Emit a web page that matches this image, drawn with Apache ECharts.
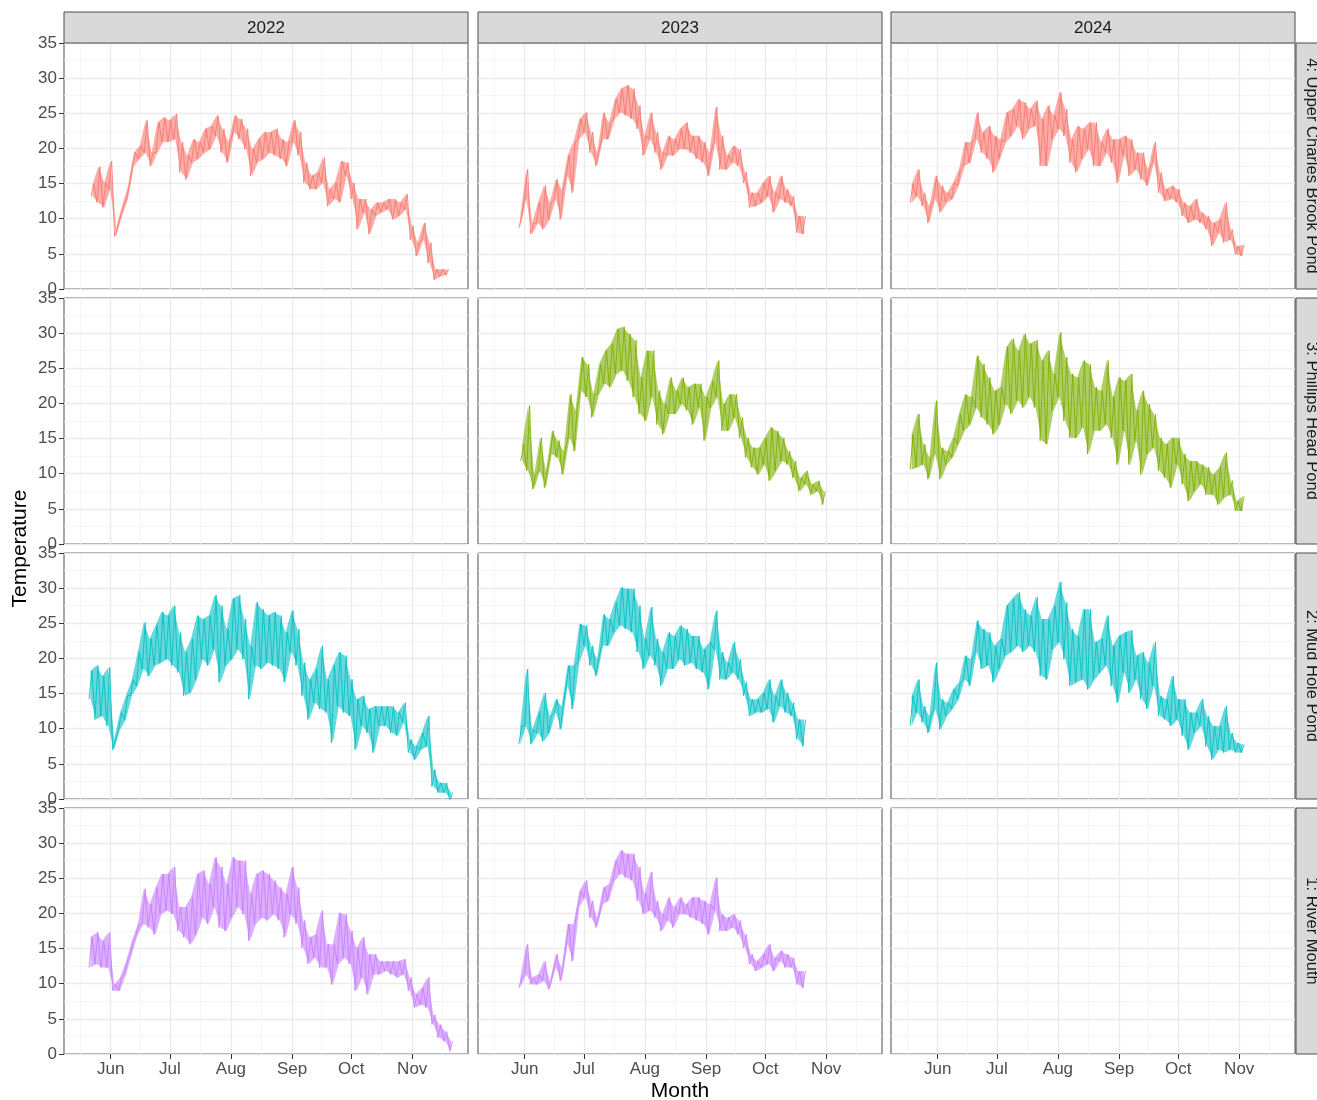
<!DOCTYPE html>
<html><head><meta charset="utf-8">
<script src="https://cdn.jsdelivr.net/npm/echarts@6/dist/echarts.min.js"></script>
<style>html,body{margin:0;padding:0;background:#fff}#c{width:1317px;height:1100px}</style>
</head><body><div id="c"></div>
<script>
// ---------- categories / ticks ----------
const years = ['2022', '2023', '2024'];
const sites = ['4: Upper Charles Brook Pond', '3: Phillips Head Pond', '2: Mud Hole Pond', '1: River Mouth'];
const siteColors = ['#F8766D', '#7CAE00', '#00BFC4', '#C77CFF'];
const monthLabels = ['Jun', 'Jul', 'Aug', 'Sep', 'Oct', 'Nov'];
const monthStartDays = [0, 30, 61, 92, 122, 153];          // days after 1 June
const midMonthDays = [-15.5, 15, 45.5, 76.5, 107, 137.5, 168];
const yTickValues = [0, 5, 10, 15, 20, 25, 30, 35];
const STEP_DAYS = 3; // one low/high reading every 3 days

// ---------- series values (daily low / high, every 3 days) ----------
// 4: Upper Charles Brook Pond
const uc22Start = -10;
const uc22Lo = [13.2,12.3,11.6,14.2,7.5,10.4,12.8,17.5,18.5,19.4,17.5,19.4,20.9,20.9,21.3,16.6,15.6,18.0,18.5,19.4,19.9,21.8,19.4,18.0,22.3,21.3,19.9,16.1,18.0,18.5,19.4,19.0,18.5,17.5,20.9,19.0,15.1,14.2,14.2,15.1,11.8,12.8,12.3,16.1,12.8,8.5,10.9,7.8,10.4,10.9,11.3,9.9,10.4,11.3,7.0,4.7,7.0,3.7,1.3,1.8,2.0];
const uc22Hi = [14.9,17.4,15.1,18.2,8.7,11.8,14.7,19.4,20.4,24.0,19.4,23.7,24.4,24.0,24.9,20.9,19.0,21.3,20.9,22.8,23.2,24.7,22.8,20.9,24.7,24.2,22.8,19.9,21.3,22.3,22.3,22.8,21.3,20.9,24.0,22.3,18.0,16.1,16.6,18.7,14.2,15.1,18.2,18.0,15.1,12.8,12.8,11.3,12.3,12.3,12.8,12.8,12.3,13.5,9.0,6.6,9.4,6.6,2.8,2.8,2.8];
const uc23Start = -3;
const uc23Lo = [8.7,12.8,7.8,9.4,8.5,9.9,12.8,9.9,16.1,13.7,21.3,22.3,19.4,17.5,21.3,21.3,24.2,25.1,24.7,24.2,22.8,19.0,21.3,19.4,17.0,19.0,19.0,19.9,19.9,19.4,18.5,18.0,16.1,20.9,17.0,17.0,18.0,17.5,15.1,11.6,11.8,12.3,13.2,10.9,12.8,12.3,11.8,8.0,7.8];
const uc23Hi = [10.4,17.0,9.4,12.3,14.7,12.3,15.6,14.2,19.0,20.9,24.2,25.1,22.3,19.4,25.1,23.7,27.0,28.5,29.0,28.5,26.1,21.8,25.1,22.3,19.4,21.8,21.3,22.8,23.7,21.8,21.8,20.9,19.4,25.9,21.8,19.0,20.4,19.9,16.6,13.7,13.7,15.1,16.1,13.7,16.1,14.2,13.2,10.4,10.4];
const uc24Start = -14;
const uc24Lo = [12.3,13.2,11.8,9.4,12.8,10.9,12.3,12.8,14.7,17.5,18.0,21.3,19.4,18.5,16.6,18.5,20.9,21.8,23.2,21.3,22.8,23.2,17.5,17.5,21.3,22.8,21.8,18.0,16.6,18.5,19.9,17.5,17.5,19.4,18.0,15.1,19.0,16.1,17.0,15.6,14.7,18.0,13.7,12.5,12.8,12.3,10.4,9.4,9.9,9.4,8.5,6.1,8.0,6.6,7.0,4.9,4.7];
const uc24Hi = [14.9,17.0,13.7,11.8,16.1,14.7,13.7,15.1,17.0,20.9,20.9,25.1,22.3,23.2,21.8,21.3,25.1,25.6,27.0,26.6,25.6,26.8,24.2,26.1,24.7,28.0,25.6,21.3,23.2,22.8,23.7,23.7,20.9,22.8,21.3,21.3,21.8,21.3,19.4,19.4,17.0,20.9,16.6,14.2,14.7,14.2,12.3,11.8,12.8,10.9,10.4,9.4,9.9,12.3,8.5,6.1,6.3];
// 3: Phillips Head Pond
const ph23Start = -2;
const ph23Lo = [11.8,10.4,7.8,10.4,8.0,12.8,12.3,9.9,15.1,13.2,21.8,20.9,18.0,21.3,22.8,22.3,24.2,24.7,23.2,20.9,18.5,17.5,20.9,17.0,15.6,18.5,18.5,19.9,19.0,17.0,19.4,14.7,19.4,20.9,16.1,16.1,18.0,15.1,12.3,10.9,9.9,11.3,9.0,10.4,11.8,11.3,9.4,7.5,8.5,7.0,7.5,5.6];
const ph23Hi = [14.2,19.7,9.9,15.1,10.4,16.1,14.7,13.2,21.3,19.0,26.6,25.6,21.3,25.6,27.5,28.5,30.6,30.9,29.9,29.0,23.7,27.5,27.5,21.8,19.9,23.7,21.8,23.7,22.3,22.8,22.8,20.9,23.2,26.1,19.9,21.3,21.3,18.0,15.1,13.7,13.7,15.1,16.6,16.1,15.1,13.2,11.8,9.4,10.4,8.5,9.0,7.5];
const ph24Start = -14;
const ph24Lo = [10.6,10.9,11.3,9.2,12.8,9.2,11.3,12.3,14.2,16.1,17.0,19.4,18.0,17.0,15.6,17.0,19.9,18.5,20.4,19.4,20.9,19.4,14.7,14.2,19.0,20.9,17.5,15.1,15.1,16.6,12.8,16.1,16.1,17.0,15.1,11.3,16.1,11.3,14.7,9.9,12.8,13.7,10.4,9.4,8.0,11.3,8.5,6.1,7.5,8.5,7.0,7.0,5.6,6.6,7.0,4.7,4.7];
const ph24Hi = [15.6,18.5,14.2,12.3,20.4,13.7,13.2,15.1,18.5,21.3,20.9,26.8,25.6,23.7,21.8,22.3,28.0,29.2,27.5,29.9,28.5,29.0,26.1,27.5,24.2,30.1,26.6,24.2,23.7,26.1,25.6,22.3,21.8,26.1,20.9,23.7,23.2,24.2,19.0,21.8,19.9,18.5,15.1,14.2,15.1,15.1,12.8,11.8,11.8,11.3,10.9,9.9,10.9,13.0,9.0,6.1,6.8];
// 2: Mud Hole Pond
const mh22Start = -11;
const mh22Lo = [14.2,11.3,11.8,10.4,7.0,9.9,11.3,14.7,16.1,18.5,17.5,19.0,19.4,19.9,19.0,18.0,14.7,15.1,17.0,19.9,19.0,21.3,16.6,19.0,19.9,21.3,19.9,14.2,19.0,18.5,19.4,19.0,18.5,16.6,20.9,19.0,14.7,11.3,13.7,12.8,12.3,8.0,13.2,12.3,11.8,7.0,10.4,9.4,6.6,10.4,10.4,9.4,9.0,10.9,6.6,5.6,7.0,7.5,1.8,0.9,0.9,-0.3];
const mh22Hi = [18.2,19.0,17.5,18.7,8.5,12.3,14.7,17.0,20.9,25.1,22.8,24.7,26.6,26.1,27.5,23.7,20.9,22.8,26.1,25.6,26.1,29.0,27.5,24.2,28.5,29.0,25.6,21.8,28.0,27.0,26.1,26.6,26.1,23.7,26.8,24.2,19.4,17.0,18.5,21.8,17.0,19.0,20.9,20.4,17.0,14.2,14.7,12.8,13.2,13.2,13.2,13.2,12.3,13.7,8.5,7.5,9.4,11.8,4.2,2.3,2.3,0.9];
const mh23Start = -3;
const mh23Lo = [7.8,10.4,7.8,9.4,8.2,9.4,12.3,9.9,16.1,12.8,19.4,21.8,19.0,17.5,21.8,21.8,23.7,24.7,24.2,23.7,20.9,18.5,20.4,19.0,16.1,18.5,18.5,19.9,19.0,19.4,18.5,18.0,15.6,21.3,17.0,17.0,18.0,17.0,14.7,11.8,12.3,12.3,12.8,10.9,13.2,12.3,11.8,8.5,7.5];
const mh23Hi = [10.4,18.5,9.9,12.3,15.1,11.8,14.2,13.2,19.0,19.0,24.9,24.7,21.8,19.9,26.3,25.6,28.0,30.1,29.9,29.9,27.5,22.8,27.3,22.8,20.9,23.7,23.2,24.7,24.2,23.2,23.2,21.3,22.3,26.8,20.9,19.4,22.3,19.9,16.6,14.2,14.2,15.1,17.0,14.7,17.0,15.1,13.7,11.3,11.3];
const mh24Start = -14;
const mh24Lo = [10.4,12.3,10.9,9.4,12.8,9.9,11.8,12.8,14.2,17.0,16.1,20.9,18.5,19.0,16.6,18.5,20.4,20.9,21.8,20.9,21.8,20.9,17.5,17.0,21.3,22.3,19.9,16.1,16.6,17.0,15.6,17.0,18.0,19.0,16.1,13.7,18.0,15.1,17.0,14.2,12.8,16.1,11.8,11.3,10.4,11.3,9.0,7.0,9.4,10.4,7.5,5.6,7.0,6.6,7.0,6.6,6.6];
const mh24Hi = [14.7,17.0,13.2,11.8,19.4,14.2,13.7,15.6,16.6,20.4,19.9,25.4,24.2,23.7,21.8,22.8,27.5,28.5,29.4,27.0,26.1,28.7,25.6,25.6,27.5,30.9,28.0,24.2,23.2,27.0,27.0,22.3,22.8,26.1,21.8,23.2,23.7,24.0,20.4,20.9,19.4,22.3,14.7,14.2,17.5,14.2,14.2,12.3,12.3,14.2,11.8,10.4,10.4,13.2,9.4,8.0,7.8];
// 1: River Mouth
const rm22Start = -11;
const rm22Lo = [12.3,12.8,12.3,12.3,9.0,9.0,11.3,14.2,17.0,18.5,18.0,17.0,19.9,20.4,19.9,17.5,16.6,15.6,17.0,19.4,18.5,20.9,18.0,17.5,19.4,20.9,19.9,16.1,18.5,19.4,19.0,19.9,19.0,16.6,19.9,18.5,15.1,12.8,13.7,12.3,12.3,9.9,12.8,13.7,12.8,9.0,10.9,8.5,11.3,11.3,11.8,11.3,10.9,11.3,9.0,6.6,7.0,6.6,4.2,2.3,1.8,0.4];
const rm22Hi = [16.6,17.3,16.1,17.3,9.9,10.9,13.2,16.1,18.5,23.5,21.3,23.7,25.6,25.6,26.6,20.9,20.9,22.3,25.6,26.1,24.2,28.0,26.6,24.2,28.0,27.5,27.5,22.8,25.6,26.1,25.6,24.7,23.7,22.8,26.6,23.7,19.0,16.6,17.0,20.4,15.6,15.6,20.1,19.9,17.5,15.1,16.6,14.2,14.2,13.2,13.2,13.2,13.2,13.5,10.9,8.5,9.4,10.9,5.6,4.2,3.2,1.8];
const rm23Start = -3;
const rm23Lo = [9.4,11.3,9.9,9.9,10.4,9.2,12.3,10.4,15.6,13.2,20.9,22.3,19.4,18.0,21.3,21.8,24.7,25.6,25.1,24.7,21.8,19.9,20.4,19.4,17.5,19.0,18.0,19.9,19.9,19.4,19.0,18.5,17.0,20.4,17.5,17.5,18.0,17.0,15.1,12.8,11.8,12.3,12.8,11.8,13.2,12.3,12.3,9.9,9.4];
const rm23Hi = [10.9,15.6,10.9,11.3,13.2,10.4,14.2,12.3,18.5,18.5,23.2,24.7,21.8,19.4,23.7,24.2,27.5,29.0,28.5,28.5,26.6,22.8,25.9,21.8,19.9,22.3,20.9,22.3,21.3,22.3,22.3,21.8,21.3,25.1,19.9,19.4,19.9,19.0,17.0,14.2,13.2,14.2,15.6,13.7,14.7,14.2,13.7,11.8,11.8];

// which panel (row = site, col = year) holds which readings
const panels = [
  {row: 0, col: 0, start: uc22Start, lo: uc22Lo, hi: uc22Hi},
  {row: 0, col: 1, start: uc23Start, lo: uc23Lo, hi: uc23Hi},
  {row: 0, col: 2, start: uc24Start, lo: uc24Lo, hi: uc24Hi},
  {row: 1, col: 1, start: ph23Start, lo: ph23Lo, hi: ph23Hi},
  {row: 1, col: 2, start: ph24Start, lo: ph24Lo, hi: ph24Hi},
  {row: 2, col: 0, start: mh22Start, lo: mh22Lo, hi: mh22Hi},
  {row: 2, col: 1, start: mh23Start, lo: mh23Lo, hi: mh23Hi},
  {row: 2, col: 2, start: mh24Start, lo: mh24Lo, hi: mh24Hi},
  {row: 3, col: 0, start: rm22Start, lo: rm22Lo, hi: rm22Hi},
  {row: 3, col: 1, start: rm23Start, lo: rm23Lo, hi: rm23Hi}
];

// ---------- layout / style ----------
const FONT = '"Liberation Sans", Arial, Helvetica, sans-serif';
const colLeft = [64, 478, 891];
const panelW = 404;
const rowTop = [43, 298, 553, 808];
const panelH = 246;
const X_MIN = -23.7, X_MAX = 181.3;
const majorGrid = {color: '#EBEBEB', width: 1.4};
const minorGrid = {color: '#F3F3F3', width: 0.8};

const grid = [], xAxis = [], yAxis = [], series = [], graphic = [];
for (let r = 0; r < 4; r++) {
  for (let c = 0; c < 3; c++) {
    const g = grid.length;
    grid.push({left: colLeft[c], top: rowTop[r], width: panelW, height: panelH,
      show: true, backgroundColor: '#fff', borderColor: '#4D4D4D', borderWidth: 1});
    xAxis.push({
      type: 'value', gridIndex: g, min: X_MIN, max: X_MAX, z: 1, position: 'bottom',
      axisLine: {show: false, onZero: false},
      axisTick: {show: r === 3, customValues: monthStartDays, length: 5, lineStyle: {color: '#333', width: 1}},
      axisLabel: {show: r === 3, customValues: monthStartDays, margin: 7, fontSize: 17, color: '#4D4D4D', fontFamily: FONT,
        formatter: v => monthLabels[monthStartDays.indexOf(v)] || ''},
      splitLine: {show: true, lineStyle: majorGrid}
    });
    xAxis.push({
      type: 'value', gridIndex: g, min: X_MIN, max: X_MAX, z: 0, position: 'bottom',
      axisLine: {show: false, onZero: false},
      axisTick: {show: false, customValues: midMonthDays},
      axisLabel: {show: false},
      splitLine: {show: true, lineStyle: minorGrid}
    });
    yAxis.push({
      type: 'value', gridIndex: g, min: 0, max: 35, interval: 5, position: 'left',
      axisLine: {show: false, onZero: false},
      axisTick: {show: c === 0, length: 5, lineStyle: {color: '#333', width: 1}},
      axisLabel: {show: c === 0, margin: 7, fontSize: 17, color: '#4D4D4D', fontFamily: FONT,
        customValues: yTickValues},
      splitLine: {show: true, lineStyle: majorGrid},
      minorTick: {show: false, splitNumber: 2},
      minorSplitLine: {show: true, lineStyle: minorGrid}
    });
  }
}

panels.forEach((p) => {
  const g = p.row * 3 + p.col;
  const color = siteColors[p.row];
  const zig = [], band = [];
  p.lo.forEach((v, i) => {
    const d = p.start + i * STEP_DAYS;
    zig.push([d, v]);
    zig.push([d + STEP_DAYS / 2, p.hi[i]]);
    band.push([d + STEP_DAYS / 4, v, p.hi[i]]);
  });
  // shaded daily range band (one polygon: lows forward, highs back)
  series.push({
    type: 'custom', xAxisIndex: 2 * g, yAxisIndex: g, data: band, clip: true,
    silent: true, animation: false, z: 2, encode: {x: 0, y: [1, 2]},
    renderItem: function (params, api) {
      if (params.dataIndex !== 0) return null;
      const pts = [];
      for (let i = 0; i < band.length; i++) pts.push(api.coord([band[i][0], band[i][1]]));
      for (let i = band.length - 1; i >= 0; i--) pts.push(api.coord([band[i][0], band[i][2]]));
      const cs = params.coordSys;
      return {type: 'polygon',
        shape: {points: echarts.graphic.clipPointsByRect(pts, {x: cs.x, y: cs.y, width: cs.width, height: cs.height})},
        style: {fill: color, opacity: 0.6}};
    }
  });
  // readings trace
  series.push({
    type: 'line', xAxisIndex: 2 * g, yAxisIndex: g, data: zig,
    showSymbol: false, symbol: 'none', clip: true, silent: true, animation: false,
    lineStyle: {width: 1, color: color, opacity: 0.85},
    itemStyle: {color: color}, z: 3
  });
});

// facet strips
years.forEach((y, c) => {
  graphic.push({type: 'rect', shape: {x: colLeft[c], y: 12, width: panelW, height: 31},
    style: {fill: '#D9D9D9', stroke: '#4D4D4D', lineWidth: 1}, z: 10});
  graphic.push({type: 'text', x: colLeft[c] + panelW / 2, y: 28,
    style: {text: y, textAlign: 'center', textVerticalAlign: 'middle', fontSize: 17, fill: '#1A1A1A', fontFamily: FONT}, z: 11});
});
sites.forEach((s, r) => {
  graphic.push({type: 'rect', shape: {x: 1296, y: rowTop[r], width: 31, height: panelH},
    style: {fill: '#D9D9D9', stroke: '#4D4D4D', lineWidth: 1}, z: 10});
  graphic.push({type: 'text', x: 1311.5, y: rowTop[r] + panelH / 2, rotation: -Math.PI / 2,
    style: {text: s, textAlign: 'center', textVerticalAlign: 'middle', fontSize: 16.5, fill: '#1A1A1A', fontFamily: FONT}, z: 11});
});
// axis titles
graphic.push({type: 'text', x: 20, y: 548.5, rotation: Math.PI / 2,
  style: {text: 'Temperature', textAlign: 'center', textVerticalAlign: 'middle', fontSize: 21, fill: '#000', fontFamily: FONT}});
graphic.push({type: 'text', x: 680, y: 1091,
  style: {text: 'Month', textAlign: 'center', textVerticalAlign: 'middle', fontSize: 21, fill: '#000', fontFamily: FONT}});

const chart = echarts.init(document.getElementById('c'), null, {renderer: 'canvas'});
chart.setOption({
  backgroundColor: '#ffffff',
  animation: false,
  grid, xAxis, yAxis, series, graphic
});
</script>
</body></html>
